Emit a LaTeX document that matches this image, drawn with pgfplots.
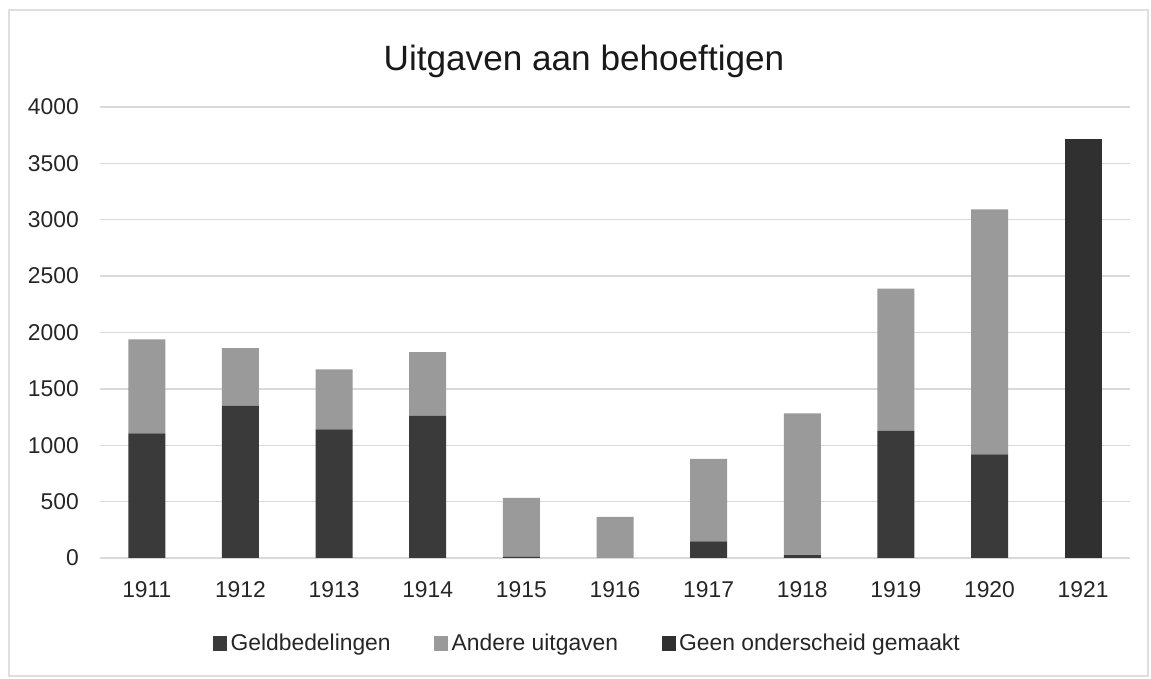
\documentclass[border=0pt]{standalone}
\usepackage{pgfplots}
\pgfplotsset{compat=1.18}
\usepackage{fontspec}
\setmainfont{Liberation Sans}
\definecolor{geld}{HTML}{3A3A3A}
\definecolor{ander}{HTML}{9A9A9A}
\definecolor{geen}{HTML}{303030}
\definecolor{gridc}{HTML}{D9D9D9}

\begin{document}
\begin{tikzpicture}
\begin{axis}[
  scale only axis, width=20.6cm, height=9.02cm,
  ybar stacked, bar width=0.74cm,
  xmin=1910.5, xmax=1921.5, ymin=0, ymax=4000,
  xtick={1911,...,1921},
  ytick={0,500,...,4000},
  /pgf/number format/1000 sep={},
  /pgf/number format/assume math mode=true,
  tick label style={font=\fontsize{13}{15}\selectfont, text=black!85},
  yticklabel style={xshift=-0.3cm},
  xticklabel style={yshift=-0.35cm},
  ymajorgrids, xmajorgrids=false, grid style={draw=gridc, line width=0.8pt},
  axis line style={draw=none}, major tick length=0pt,
  title={Uitgaven aan behoeftigen},
  title style={font=\fontsize{20}{24}\selectfont, yshift=0.25cm, xshift=-0.62cm, text=black!90},
  legend style={at={(0.474,-0.19)}, anchor=center, draw=none, legend columns=3,
    font=\fontsize{13}{15}\selectfont, text=black!85,
    /tikz/every even column/.append style={column sep=0.8cm}},
  legend image code/.code={\fill[#1] (0cm,-0.15cm) rectangle (0.28cm,0.15cm);},
  clip=false,
]
\addplot[fill=geld, draw=none] coordinates {(1911,1105)(1912,1352)(1913,1140)(1914,1262)(1915,10)(1916,0)(1917,147)(1918,25)(1919,1130)(1920,920)(1921,0)};
\addplot[fill=ander, draw=none] coordinates {(1911,835)(1912,510)(1913,533)(1914,563)(1915,523)(1916,364)(1917,732)(1918,1257)(1919,1260)(1920,2172)(1921,0)};
\addplot[fill=geen, draw=none] coordinates {(1911,0)(1912,0)(1913,0)(1914,0)(1915,0)(1916,0)(1917,0)(1918,0)(1919,0)(1920,0)(1921,3714)};
\legend{Geldbedelingen, Andere uitgaven, Geen onderscheid gemaakt}
\draw[gray!25, line width=0.6pt] ([shift={(-1.82cm,-2.36cm)}]rel axis cs:0,0) rectangle ([shift={(0.36cm,1.94cm)}]rel axis cs:1,1);
\path ([shift={(-2cm,-2.42cm)}]rel axis cs:0,0) rectangle ([shift={(0.42cm,2.14cm)}]rel axis cs:1,1);
\end{axis}
\end{tikzpicture}
\end{document}
